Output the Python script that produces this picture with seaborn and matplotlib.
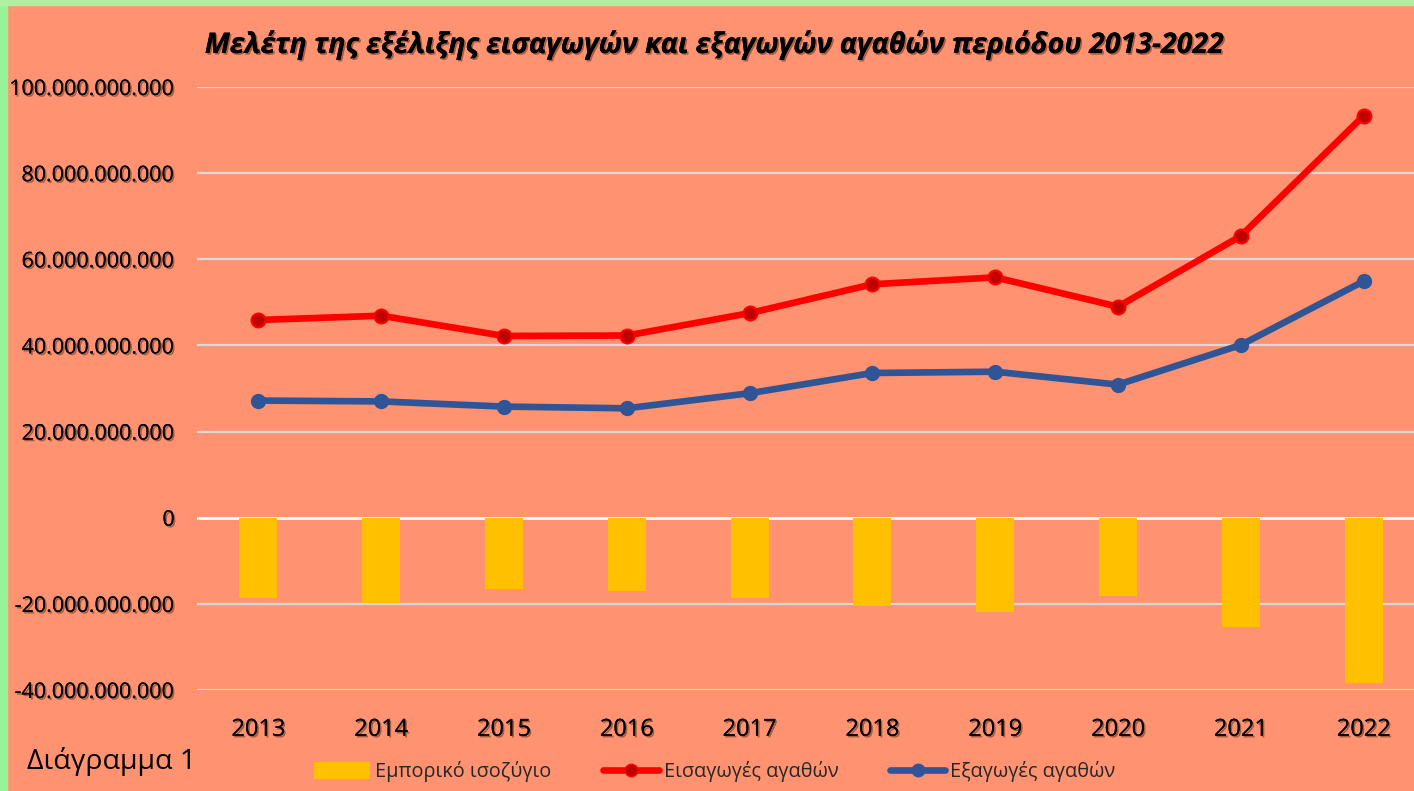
import matplotlib
matplotlib.use("Agg")
import matplotlib.pyplot as plt
import matplotlib.patheffects as pe
from matplotlib.patches import Rectangle
from matplotlib.lines import Line2D
from matplotlib.patches import Patch
from matplotlib.ticker import FuncFormatter
import seaborn as sns
import pandas as pd

years = ["2013", "2014", "2015", "2016", "2017", "2018", "2019", "2020", "2021", "2022"]
imports_ = [45.9e9, 46.9e9, 42.2e9, 42.3e9, 47.5e9, 54.2e9, 55.8e9, 49.0e9, 65.4e9, 93.3e9]
exports_ = [27.2e9, 27.0e9, 25.8e9, 25.4e9, 28.9e9, 33.6e9, 33.9e9, 30.9e9, 40.1e9, 54.9e9]
balance = [-18.7e9, -19.8e9, -16.5e9, -16.9e9, -18.6e9, -20.6e9, -21.8e9, -18.2e9, -25.4e9, -38.4e9]
yticks = [-40e9, -20e9, 0, 20e9, 40e9, 60e9, 80e9, 100e9]

title = "Μελέτη της εξέλιξης εισαγωγών και εξαγωγών αγαθών περιόδου 2013-2022"
lbl_bal = "Εμπορικό ισοζύγιο"
lbl_imp = "Εισαγωγές αγαθών"
lbl_exp = "Εξαγωγές αγαθών"

BG = "#FF9371"
GREEN = "#AEEFA0"
BAR = "#FFC000"
RED = "#FF0000"
RED_M = "#C00000"
BLUE = "#2F5597"

sns.set_theme(style="white")
plt.rcParams['font.family'] = ['Open Sans', 'DejaVu Sans']

df = pd.DataFrame({"year": years, "imp": imports_, "exp": exports_, "bal": balance})

fig = plt.figure(figsize=(14.14, 7.91), dpi=100, facecolor=BG)
W, H = 1414, 791
# border
fig.patches.append(Rectangle((0, 0), 7 / W, 1, transform=fig.transFigure, color="#98F298", zorder=0))
fig.patches.append(Rectangle((0, 1 - 5 / H), 1, 5 / H, transform=fig.transFigure, color=GREEN, zorder=0))

left, right = 197, 1425
top, bottom = 87, 690
ax = fig.add_axes([left / W, 1 - bottom / H, (right - left) / W, (bottom - top) / H])
ax.set_facecolor(BG)

sns.barplot(data=df, x="year", y="bal", color=BAR, width=0.31, ax=ax, saturation=1,
            linewidth=0, edgecolor="none", zorder=2)
ax.plot(range(len(years)), df["imp"], color=RED, lw=4.8, marker="o", ms=10,
        mfc=RED_M, mec=RED, mew=1.5, zorder=4, solid_capstyle="round")
ax.plot(range(len(years)), df["exp"], color=BLUE, lw=4.8, marker="o", ms=10,
        mfc=BLUE, mec=BLUE, zorder=4, solid_capstyle="round")

ax.set_ylim(-40e9, 100e9)
ax.set_xlim(-0.5, len(years) - 0.5)
ax.set_yticks(yticks)
ax.yaxis.set_major_formatter(FuncFormatter(lambda v, p: f"{int(round(v)):,}".replace(",", ".")))
for y in yticks:
    ax.axhline(y, color="white" if y == 0 else "#D9D9D9", lw=1.6 if y else 2.0, zorder=1)
for s in ax.spines.values():
    s.set_visible(False)
ax.set_xlabel("")
ax.set_ylabel("")
ax.tick_params(axis="y", length=0, pad=16, labelsize=15.5)
ax.tick_params(axis="x", length=0, pad=20, labelsize=17)

shadow = [pe.withSimplePatchShadow(offset=(1.2, -1.2), shadow_rgbFace="#5a3020", alpha=0.55), pe.Normal()]
for t in ax.get_yticklabels():
    t.set_path_effects(shadow)
    t.set_color("black")
for t in ax.get_xticklabels():
    t.set_path_effects(shadow)
    t.set_color("black")

fig.text(715 / W, 1 - 45 / H, title, ha="center", va="center", fontsize=20.5,
         fontweight="bold", fontstyle="italic", color="black", path_effects=shadow)
fig.text(27 / W, 1 - 762 / H, "Διάγραμμα 1", ha="left", va="center", fontsize=20.5, color="black")

handles = [
    Patch(facecolor=BAR, edgecolor="none", label=lbl_bal),
    Line2D([], [], color=RED, lw=4.8, marker="o", ms=9, mfc=RED_M, mec=RED, label=lbl_imp),
    Line2D([], [], color=BLUE, lw=4.8, marker="o", ms=9, mfc=BLUE, mec=BLUE, label=lbl_exp),
]
leg = fig.legend(handles=handles, loc="center", bbox_to_anchor=(715 / W, 1 - 772 / H), ncol=3,
                 frameon=False, fontsize=14.3, handlelength=2.8, handletextpad=0.25, columnspacing=2.6,
                 handleheight=0.9, borderpad=0)

fig.savefig("out.png", dpi=100, facecolor=BG)
